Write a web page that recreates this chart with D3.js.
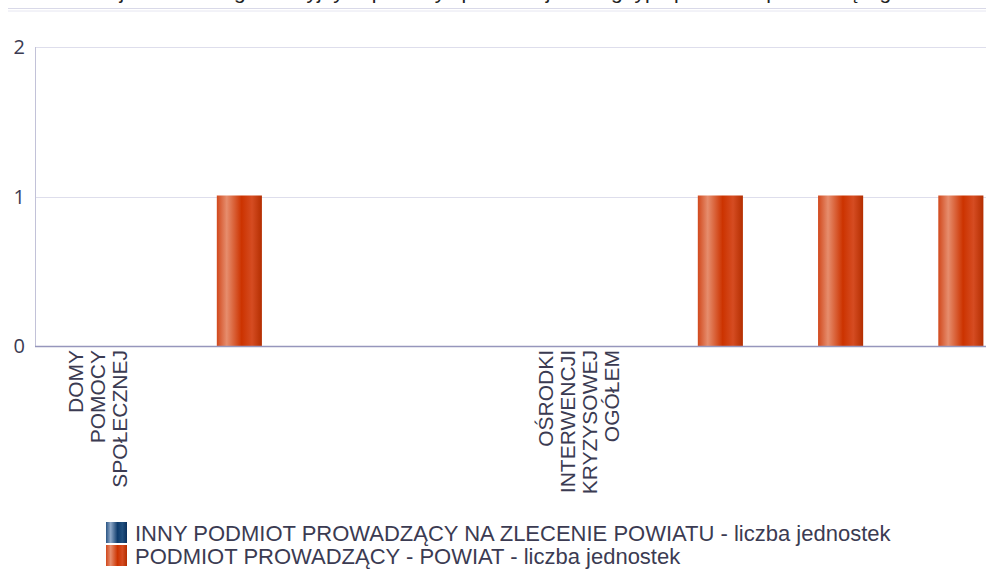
<!DOCTYPE html>
<html lang="pl">

<head>
    <meta charset="UTF-8">
    <title>Jednostki pomocy społecznej</title>
    <script src="https://d3js.org/d3.v7.min.js"></script>
    <style>
        body {
            margin: 0;
            background: #ffffff;
        }

        svg {
            display: block;
        }
    </style>
</head>

<body>
    <div id="chart"></div>
    <script>

        // data
        const categories = [
            "DOMY POMOCY SPOŁECZNEJ", "", "", "",
            "OŚRODKI INTERWENCJI KRYZYSOWEJ OGÓŁEM", "", "", ""
        ];
        const seriesNames = [
            "INNY PODMIOT PROWADZĄCY NA ZLECENIE POWIATU - liczba jednostek",
            "PODMIOT PROWADZĄCY - POWIAT - liczba jednostek"
        ];
        const innyValues = [0, 0, 0, 0, 0, 0, 0, 0];
        const powiatValues = [0, 1, 0, 0, 0, 1, 1, 1];
        const yTicks = [0, 1, 2];
        const titleText = "Liczba jednostek organizacyjnych pomocy społecznej według typu podmiotu prowadzącego";

        const width = 986;
        const height = 569;

        // plot area (the right part runs past the window, like the original)
        const margin = { top: 47, left: 35, bottom: 223 };
        const bandStep = 120.25;

        const svg = d3.select("#chart")
            .append("svg")
            .attr("width", width)
            .attr("height", height);

        const defs = svg.append("defs");

        // cylinder like gradients for the bars
        function addGradient(id, stops) {
            const g = defs.append("linearGradient")
                .attr("id", id)
                .attr("x1", "0%").attr("x2", "100%")
                .attr("y1", "0%").attr("y2", "0%");
            stops.forEach(function (s) {
                g.append("stop").attr("offset", s[0]).attr("stop-color", s[1]);
            });
        }
        addGradient("gradBlue", [["0%", "#2a5584"], ["22%", "#8ea8c8"], ["55%", "#0e3b6c"], ["78%", "#21507f"], ["100%", "#0a2f5c"]]);
        addGradient("gradOrange", [["0%", "#d1481c"], ["22%", "#e68d6d"], ["55%", "#cc3300"], ["78%", "#d54c22"], ["100%", "#b42e00"]]);
        const fills = ["url(#gradBlue)", "url(#gradOrange)"];

        // title, mostly cut off at the top
        svg.append("text")
            .attr("x", 478)
            .attr("y", -1)
            .attr("text-anchor", "middle")
            .style("font-family", "Liberation Sans, Arial, sans-serif")
            .style("font-size", "21px")
            .attr("fill", "#222222")
            .text(titleText);

        svg.append("line")
            .attr("x1", 8).attr("x2", width)
            .attr("y1", 8.5).attr("y2", 8.5)
            .attr("stroke", "#d9d9e8");
        svg.append("line")
            .attr("x1", 8).attr("x2", width)
            .attr("y1", 11).attr("y2", 11)
            .attr("stroke", "#e6e6f1");

        // scales
        const x = d3.scaleBand()
            .domain(d3.range(categories.length))
            .range([margin.left, margin.left + bandStep * categories.length])
            .padding(0);

        const groupPad = 13.6;
        const x1 = d3.scaleBand()
            .domain(d3.range(seriesNames.length))
            .range([groupPad, x.bandwidth() - groupPad])
            .paddingInner(0.06);

        const y = d3.scaleLinear()
            .domain([0, 2])
            .range([height - margin.bottom, margin.top]);

        // gridlines
        svg.append("g")
            .selectAll("line")
            .data(yTicks.filter(function (d) { return d > 0; }))
            .join("line")
            .attr("x1", margin.left)
            .attr("x2", width)
            .attr("y1", function (d) { return Math.round(y(d)) + 0.5; })
            .attr("y2", function (d) { return Math.round(y(d)) + 0.5; })
            .attr("stroke", "#dedeec");

        // y labels
        svg.append("g")
            .selectAll("text")
            .data(yTicks)
            .join("text")
            .attr("x", 25)
            .attr("y", function (d) { return y(d); })
            .attr("dy", "0.35em")
            .attr("text-anchor", "end")
            .style("font-family", "Open Sans, sans-serif")
            .style("font-size", "20px")
            .attr("fill", "#3b3b52")
            .text(function (d) { return d; });

        // y axis line
        svg.append("line")
            .attr("x1", margin.left + 0.5).attr("x2", margin.left + 0.5)
            .attr("y1", y(2)).attr("y2", y(0))
            .attr("stroke", "#c2c2d8");

        // bars
        const seriesData = [innyValues, powiatValues];
        seriesData.forEach(function (vals, s) {
            svg.append("g")
                .selectAll("rect")
                .data(vals.map(function (v, i) { return { i: i, v: v }; }))
                .join("rect")
                .attr("x", function (d) { return x(d.i) + x1(s); })
                .attr("y", function (d) { return y(d.v) - 1; })
                .attr("width", x1.bandwidth())
                .attr("height", function (d) { return d.v > 0 ? y(0) - y(d.v) + 1 : 0; })
                .attr("fill", fills[s]);
        });

        // x axis line
        svg.append("line")
            .attr("x1", margin.left).attr("x2", width)
            .attr("y1", y(0) + 0.5).attr("y2", y(0) + 0.5)
            .attr("stroke", "#9696bc")
            .attr("stroke-width", 1.3);

        // category labels, rotated, one word per line
        const lineGap = 22;
        const catLabels = svg.append("g")
            .selectAll("text")
            .data(categories.map(function (c, i) { return { i: i, words: c ? c.split(" ") : [] }; }))
            .join("text")
            .attr("transform", function (d) {
                const cx = x(d.i) + x.bandwidth() / 2 + 3;
                return "translate(" + cx + "," + (y(0) + 4) + ") rotate(-90)";
            })
            .attr("text-anchor", "end")
            .style("font-family", "Liberation Sans, Arial, sans-serif")
            .style("font-size", "21px")
            .attr("fill", "#3b3b52");

        catLabels.selectAll("tspan")
            .data(function (d) {
                const n = d.words.length;
                return d.words.map(function (w, k) { return { w: w, off: (k - (n - 1) / 2) * lineGap }; });
            })
            .join("tspan")
            .attr("x", 0)
            .attr("y", function (d) { return d.off; })
            .attr("dy", "0.35em")
            .text(function (d) { return d.w; });

        // legend
        const legend = svg.append("g")
            .selectAll("g")
            .data(seriesNames)
            .join("g")
            .attr("transform", function (d, i) { return "translate(106," + (522 + i * 23) + ")"; });

        legend.append("rect")
            .attr("width", 21)
            .attr("height", 21)
            .attr("fill", function (d, i) { return fills[i]; });

        legend.append("text")
            .attr("x", 29)
            .attr("y", 19)
            .style("font-family", "Liberation Sans, Arial, sans-serif")
            .style("font-size", "22px")
            .attr("fill", "#3b3b52")
            .text(function (d) { return d; });

    </script>
</body>

</html>
